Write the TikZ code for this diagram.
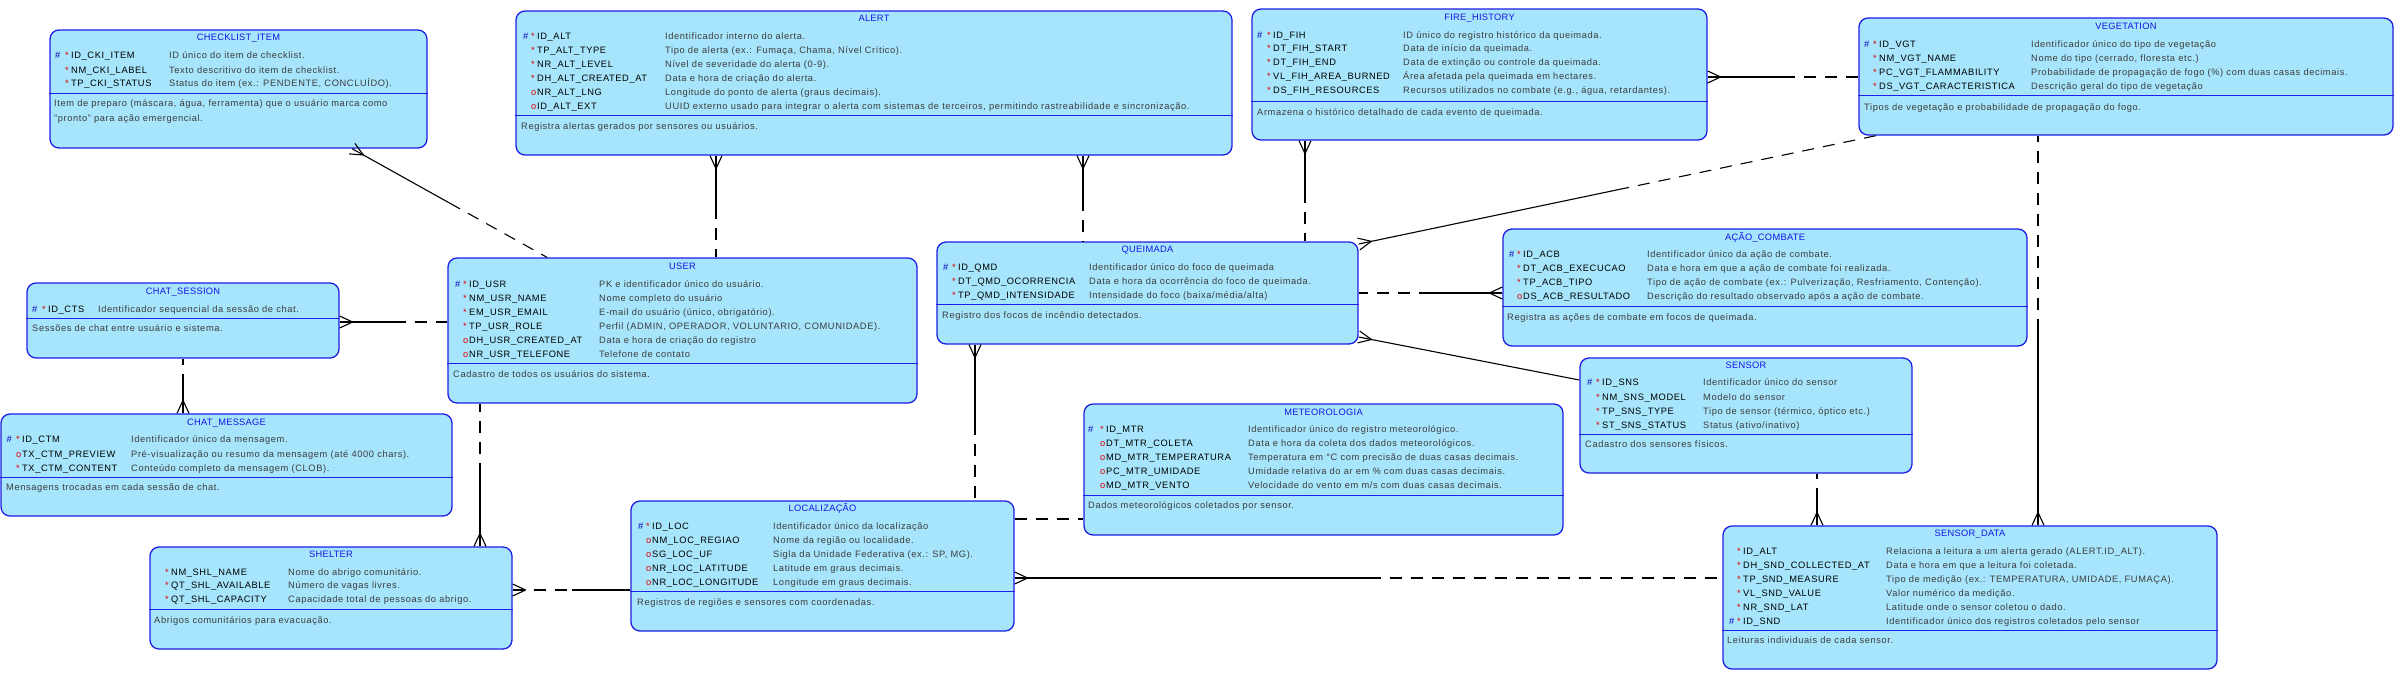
\documentclass[tikz,border=0pt]{standalone}
\usepackage{fontspec}
\setmainfont{Liberation Sans}[LetterSpace=6.5]
\usetikzlibrary{calc}
\definecolor{entfill}{RGB}{166,229,251}
\definecolor{entdraw}{RGB}{30,30,230}
\definecolor{ttlc}{RGB}{20,20,230}
\definecolor{dscc}{RGB}{60,60,60}
\definecolor{mkc}{RGB}{225,0,0}
\definecolor{hshc}{RGB}{0,0,190}
\newcounter{tn}
\newcommand\fsz{\fontsize{9.3}{11}\selectfont}
\newcommand\tfsz{\fontsize{9.3}{11}\selectfont\addfontfeature{LetterSpace=3}}
\tikzset{
  entity/.style={draw=entdraw, fill=entfill, line width=1.3pt, rounded corners=9pt, inner sep=0pt},
  sepl/.style={draw=entdraw, line width=1pt},
  txt/.style={inner sep=0pt, anchor=west, text height=6.7pt, text depth=0pt, font=\fsz},
  ttl/.style={txt, anchor=center, text=ttlc, font=\tfsz},
  nm/.style={txt, text=black},
  ds/.style={txt, text=dscc},
  mkh/.style={txt, text=hshc},
  mks/.style={txt, anchor=east, text=mkc},
  mko/.style={txt, anchor=east, text=mkc},
  conn/.style={line width=1.1pt, draw=black},
  dsh/.style={conn, dash pattern=on 12pt off 9pt},
  crow/.pic={\draw[conn, solid] (13,0) -- (0,6) (13,0) -- (0,-6);}
}
\newcommand\cols[3]{\def\xh{#1}\def\xn{#2}\def\xd{#3}}
\newcommand\rowbody[3]{%
  \node[nm] (n\thetn) at (\xn,#1) {\detokenize{#2}};
  \node[ds] (d\thetn) at (\xd,#1) {#3};}
\newcommand\prow[3]{\stepcounter{tn}%
  \node[mkh] (h\thetn) at (\xh,#1) {\#};
  \node[mks] (s\thetn) at ({\xn-2},#1) {*};
  \rowbody{#1}{#2}{#3}}
\newcommand\mrow[3]{\stepcounter{tn}%
  \node[mks] (s\thetn) at ({\xn-2},#1) {*};
  \rowbody{#1}{#2}{#3}}
\newcommand\orow[3]{\stepcounter{tn}%
  \node[mko] (o\thetn) at ({\xn-0.5},#1) {o};
  \rowbody{#1}{#2}{#3}}
\newcommand\dline[3]{\stepcounter{tn}\node[ds] (l\thetn) at (#1,#2) {#3};}
\newcommand\ent[8]{%
  \node[entity, minimum width={(#4-#2)*1pt}, minimum height={(#5-#3)*1pt}] (#1) at ({(#2+#4)/2},{(#3+#5)/2}) {};
  \node[ttl] (#1-t) at ({(#2+#4)/2},#6) {#8};
  \draw[sepl] (#1.west |- 0,#7) -- (#1.east |- 0,#7);}
\newcommand\rel[4]{%
  \draw[#3] (#1) -- pic[pos=0,sloped,allow upside down]{crow} ($(#1)!0.5!(#2)$);
  \draw[#4] ($(#1)!0.5!(#2)$) -- (#2);}
\begin{document}
\begin{tikzpicture}[x=1pt,y=-1pt]
\fill[white] (0,0) rectangle (2404,681);
\useasboundingbox (0,0) rectangle (2404,681);

% CHECKLIST_ITEM
\ent{chk}{50}{30}{427}{148}{37.3}{93}{CHECKLIST\_ITEM}
\cols{55}{71}{169}
\prow{55.5}{ID_CKI_ITEM}{ID único do item de checklist.}
\mrow{69.7}{NM_CKI_LABEL}{Texto descritivo do item de checklist.}
\mrow{83.3}{TP_CKI_STATUS}{Status do item (ex.: PENDENTE, CONCLUÍDO).}
\dline{54}{103.3}{Item de preparo (máscara, água, ferramenta) que o usuário marca como}
\dline{54}{118.3}{"pronto" para ação emergencial.}

% ALERT
\ent{alt}{516}{11}{1232}{155}{18}{115}{ALERT}
\cols{523}{537}{665}
\prow{36}{ID_ALT}{Identificador interno do alerta.}
\mrow{50}{TP_ALT_TYPE}{Tipo de alerta (ex.: Fumaça, Chama, Nível Crítico).}
\mrow{64}{NR_ALT_LEVEL}{Nível de severidade do alerta (0-9).}
\mrow{78}{DH_ALT_CREATED_AT}{Data e hora de criação do alerta.}
\orow{92}{NR_ALT_LNG}{Longitude do ponto de alerta (graus decimais).}
\orow{106}{ID_ALT_EXT}{UUID externo usado para integrar o alerta com sistemas de terceiros, permitindo rastreabilidade e sincronização.}
\dline{521}{126}{Registra alertas gerados por sensores ou usuários.}

% FIRE_HISTORY
\ent{fih}{1252}{9}{1707}{140}{17}{101}{FIRE\_HISTORY}
\cols{1257}{1273}{1403}
\prow{35}{ID_FIH}{ID único do registro histórico da queimada.}
\mrow{48.5}{DT_FIH_START}{Data de início da queimada.}
\mrow{62.3}{DT_FIH_END}{Data de extinção ou controle da queimada.}
\mrow{76.3}{VL_FIH_AREA_BURNED}{Área afetada pela queimada em hectares.}
\mrow{90.3}{DS_FIH_RESOURCES}{Recursos utilizados no combate (e.g., água, retardantes).}
\dline{1257}{112}{Armazena o histórico detalhado de cada evento de queimada.}

% VEGETATION
\ent{veg}{1859}{18}{2393}{135}{25.7}{95.3}{VEGETATION}
\cols{1864}{1879}{2031}
\prow{43.7}{ID_VGT}{Identificador único do tipo de vegetação}
\mrow{57.7}{NM_VGT_NAME}{Nome do tipo (cerrado, floresta etc.)}
\mrow{71.7}{PC_VGT_FLAMMABILITY}{Probabilidade de propagação de fogo (\%) com duas casas decimais.}
\mrow{85.7}{DS_VGT_CARACTERISTICA}{Descrição geral do tipo de vegetação}
\dline{1864}{106.7}{Tipos de vegetação e probabilidade de propagação do fogo.}

% CHAT_SESSION
\ent{cs}{27}{283}{339}{358}{290.7}{318.3}{CHAT\_SESSION}
\cols{32}{48}{98}
\prow{308.7}{ID_CTS}{Identificador sequencial da sessão de chat.}
\dline{32}{328.3}{Sessões de chat entre usuário e sistema.}

% CHAT_MESSAGE
\ent{cm}{1}{414}{452}{516}{421.7}{477.3}{CHAT\_MESSAGE}
\cols{6.5}{22}{131}
\prow{439.3}{ID_CTM}{Identificador único da mensagem.}
\orow{453.7}{TX_CTM_PREVIEW}{Pré-visualização ou resumo da mensagem (até 4000 chars).}
\mrow{467.7}{TX_CTM_CONTENT}{Conteúdo completo da mensagem (CLOB).}
\dline{6}{487.3}{Mensagens trocadas em cada sessão de chat.}

% USER
\ent{usr}{448}{258}{917}{403}{265.7}{363.3}{USER}
\cols{455}{469}{599}
\prow{283.7}{ID_USR}{PK e identificador único do usuário.}
\mrow{297.7}{NM_USR_NAME}{Nome completo do usuário}
\mrow{311.7}{EM_USR_EMAIL}{E-mail do usuário (único, obrigatório).}
\mrow{325.7}{TP_USR_ROLE}{Perfil (ADMIN, OPERADOR, VOLUNTARIO, COMUNIDADE).}
\orow{339.7}{DH_USR_CREATED_AT}{Data e hora de criação do registro}
\orow{353.7}{NR_USR_TELEFONE}{Telefone de contato}
\dline{453}{374.3}{Cadastro de todos os usuários do sistema.}

% QUEIMADA
\ent{qmd}{937}{242}{1358}{344}{249}{304.5}{QUEIMADA}
\cols{943}{958}{1089}
\prow{267}{ID_QMD}{Identificador único do foco de queimada}
\mrow{281}{DT_QMD_OCORRENCIA}{Data e hora da ocorrência do foco de queimada.}
\mrow{295}{TP_QMD_INTENSIDADE}{Intensidade do foco (baixa/média/alta)}
\dline{942}{315}{Registro dos focos de incêndio detectados.}

% ACAO_COMBATE
\ent{acb}{1503}{229}{2027}{346}{237}{306}{AÇÃO\_COMBATE}
\cols{1509}{1523}{1647}
\prow{254.3}{ID_ACB}{Identificador único da ação de combate.}
\mrow{268.3}{DT_ACB_EXECUCAO}{Data e hora em que a ação de combate foi realizada.}
\mrow{282.3}{TP_ACB_TIPO}{Tipo de ação de combate (ex.: Pulverização, Resfriamento, Contenção).}
\orow{296.3}{DS_ACB_RESULTADO}{Descrição do resultado observado após a ação de combate.}
\dline{1507}{316.7}{Registra as ações de combate em focos de queimada.}

% SENSOR
\ent{sns}{1580}{358}{1912}{473}{365}{434.3}{SENSOR}
\cols{1587}{1602}{1703}
\prow{381.7}{ID_SNS}{Identificador único do sensor}
\mrow{396.7}{NM_SNS_MODEL}{Modelo do sensor}
\mrow{410.7}{TP_SNS_TYPE}{Tipo de sensor (térmico, óptico etc.)}
\mrow{424.7}{ST_SNS_STATUS}{Status (ativo/inativo)}
\dline{1585}{444.3}{Cadastro dos sensores físicos.}

% METEOROLOGIA
\ent{mtr}{1084}{404}{1563}{535}{411.7}{495}{METEOROLOGIA}
\cols{1088}{1106}{1248}
\prow{429.3}{ID_MTR}{Identificador único do registro meteorológico.}
\orow{443.3}{DT_MTR_COLETA}{Data e hora da coleta dos dados meteorológicos.}
\orow{457.3}{MD_MTR_TEMPERATURA}{Temperatura em °C com precisão de duas casas decimais.}
\orow{471.3}{PC_MTR_UMIDADE}{Umidade relativa do ar em \% com duas casas decimais.}
\orow{485.3}{MD_MTR_VENTO}{Velocidade do vento em m/s com duas casas decimais.}
\dline{1088}{505}{Dados meteorológicos coletados por sensor.}

% SHELTER
\ent{shl}{150}{547}{512}{649}{554.3}{609.3}{SHELTER}
\cols{0}{171}{288}
\mrow{571.7}{NM_SHL_NAME}{Nome do abrigo comunitário.}
\mrow{585.3}{QT_SHL_AVAILABLE}{Número de vagas livres.}
\mrow{599.3}{QT_SHL_CAPACITY}{Capacidade total de pessoas do abrigo.}
\dline{154}{620}{Abrigos comunitários para evacuação.}

% LOCALIZACAO
\ent{loc}{631}{501}{1014}{631}{507.7}{591.7}{LOCALIZAÇÃO}
\cols{638}{652}{773}
\prow{526}{ID_LOC}{Identificador único da localização}
\orow{540}{NM_LOC_REGIAO}{Nome da região ou localidade.}
\orow{554}{SG_LOC_UF}{Sigla da Unidade Federativa (ex.: SP, MG).}
\orow{567.7}{NR_LOC_LATITUDE}{Latitude em graus decimais.}
\orow{581.7}{NR_LOC_LONGITUDE}{Longitude em graus decimais.}
\dline{637}{602.3}{Registros de regiões e sensores com coordenadas.}

% SENSOR_DATA
\ent{snd}{1723}{526}{2217}{669}{532.7}{630}{SENSOR\_DATA}
\cols{1729}{1743}{1886}
\mrow{551}{ID_ALT}{Relaciona a leitura a um alerta gerado (ALERT.ID\_ALT).}
\mrow{565}{DH_SND_COLLECTED_AT}{Data e hora em que a leitura foi coletada.}
\mrow{579}{TP_SND_MEASURE}{Tipo de medição (ex.: TEMPERATURA, UMIDADE, FUMAÇA).}
\mrow{592.7}{VL_SND_VALUE}{Valor numérico da medição.}
\mrow{606.7}{NR_SND_LAT}{Latitude onde o sensor coletou o dado.}
\prow{620.7}{ID_SND}{Identificador único dos registros coletados pelo sensor}
\dline{1727}{640}{Leituras individuais de cada sensor.}

% connector end points
\coordinate (c1a) at (352,0 |- chk.south);   \coordinate (c1b) at (547,0 |- usr.north);
\coordinate (c2a) at (716,0 |- alt.south);   \coordinate (c2b) at (716,0 |- usr.north);
\coordinate (c3a) at (1083,0 |- alt.south);  \coordinate (c3b) at (1083,0 |- qmd.north);
\coordinate (c4a) at (1305,0 |- fih.south);  \coordinate (c4b) at (1305,0 |- qmd.north);
\coordinate (c5a) at (fih.east |- 0,77);     \coordinate (c5b) at (veg.west |- 0,77);
\coordinate (c6a) at (qmd.east |- 0,244);    \coordinate (c6b) at (1876,0 |- veg.south);
\coordinate (c7a) at (2038,0 |- snd.north);  \coordinate (c7b) at (2038,0 |- veg.south);
\coordinate (c8a) at (acb.west |- 0,293);    \coordinate (c8b) at (qmd.east |- 0,293);
\coordinate (c9a) at (qmd.east |- 0,337);    \coordinate (c9b) at (sns.west |- 0,380);
\coordinate (c10a) at (975,0 |- qmd.south);  \coordinate (c10b) at (975,0 |- loc.north);
\coordinate (c11a) at (loc.east |- 0,519);   \coordinate (c11b) at (mtr.west |- 0,519);
\coordinate (c12a) at (loc.east |- 0,578);   \coordinate (c12b) at (snd.west |- 0,578);
\coordinate (c13a) at (shl.east |- 0,590);   \coordinate (c13b) at (loc.west |- 0,590);
\coordinate (c14a) at (480,0 |- shl.north);  \coordinate (c14b) at (480,0 |- usr.south);
\coordinate (c15a) at (cs.east |- 0,322);    \coordinate (c15b) at (usr.west |- 0,322);
\coordinate (c16a) at (183,0 |- cm.north);   \coordinate (c16b) at (183,0 |- cs.south);
\coordinate (c17a) at (1817,0 |- snd.north); \coordinate (c17b) at (1817,0 |- sns.south);

\rel{c1a}{c1b}{conn}{dsh}
\rel{c2a}{c2b}{conn}{dsh}
\rel{c3a}{c3b}{conn}{dsh}
\rel{c4a}{c4b}{conn}{dsh}
\rel{c5a}{c5b}{conn}{dsh}
\rel{c6a}{c6b}{conn}{dsh}
\rel{c7a}{c7b}{conn}{dsh}
\rel{c8a}{c8b}{conn}{dsh}
\rel{c9a}{c9b}{conn}{conn}
\rel{c10a}{c10b}{conn}{dsh}
\draw[dsh] (c11a) -- (c11b);
\rel{c12a}{c12b}{conn}{dsh}
\rel{c13a}{c13b}{dsh}{conn}
\rel{c14a}{c14b}{conn}{dsh}
\rel{c15a}{c15b}{conn}{dsh}
\rel{c16a}{c16b}{conn}{dsh}
\rel{c17a}{c17b}{conn}{dsh}
\end{tikzpicture}
\end{document}
